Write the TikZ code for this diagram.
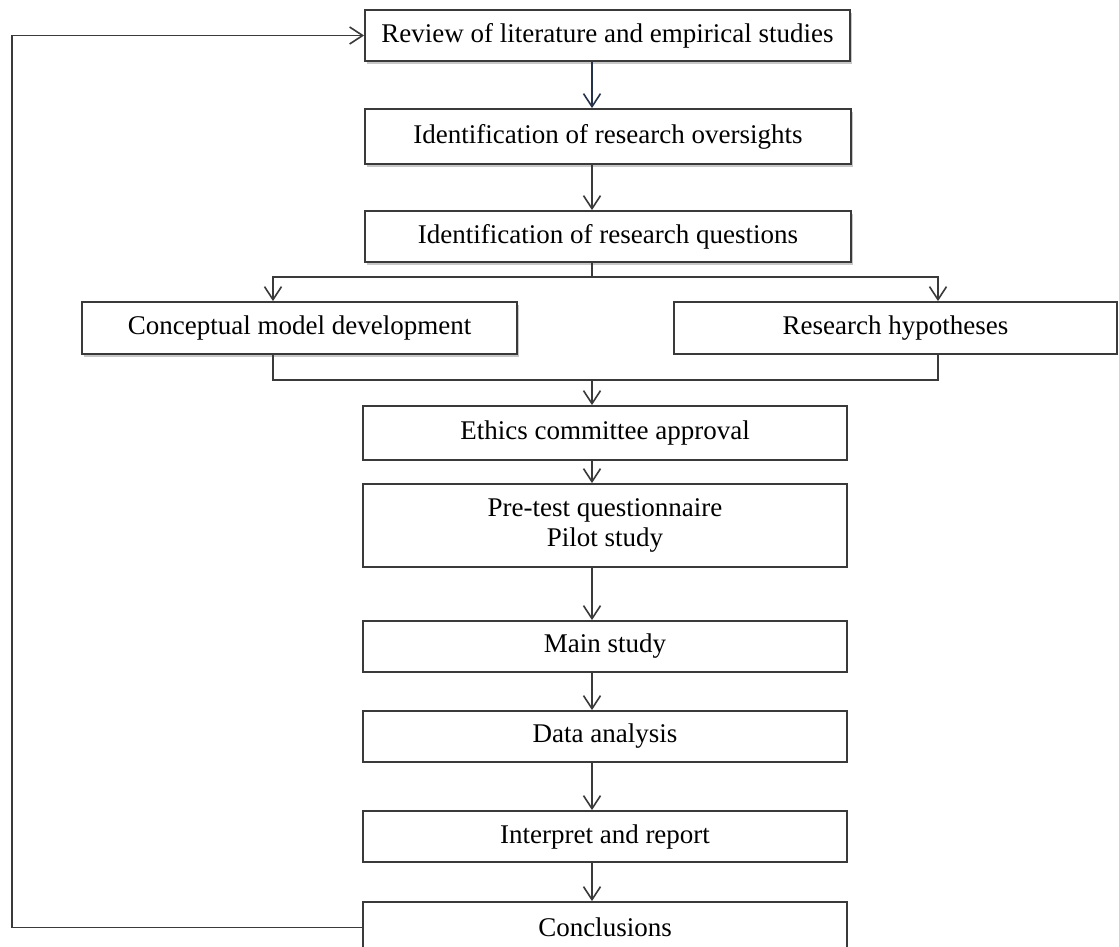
\documentclass[tikz,border=0pt]{standalone}
\usepackage{fontspec}
\setmainfont{Liberation Serif}
\usetikzlibrary{arrows.meta,shadows}

\definecolor{edge}{HTML}{3A3A3A}
\definecolor{navy}{HTML}{26324A}

\tikzset{
  stepbox/.style={draw=edge, line width=1.8pt, fill=white, rectangle,
    inner sep=0pt, align=center,
    font=\fontsize{27}{30}\selectfont},
  shadowed/.style={drop shadow={shadow xshift=2pt, shadow yshift=-3pt,
    opacity=0.22, fill=black}},
  link/.style={draw=edge, line width=1.8pt},
  arr/.style={link, -{Straight Barb[length=13pt,width=17pt,line width=1.6pt]}},
}

\begin{document}
\begin{tikzpicture}[x=1pt, y=-1pt]
  \clip (0,0) rectangle (1119,946);
  \fill[white] (0,0) rectangle (1119,946);

  % process steps
  \node[stepbox, shadowed, minimum width=485pt, minimum height=51pt] (review) at (607.5,35.5)
    {Review of literature and empirical studies};
  \node[stepbox, shadowed, minimum width=486pt, minimum height=55pt] (overs) at (608,136.5)
    {Identification of research oversights};
  \node[stepbox, shadowed, minimum width=486pt, minimum height=51pt] (quest) at (608,236.5)
    {Identification of research questions};
  \node[stepbox, shadowed, minimum width=435pt, minimum height=52pt] (concept) at (299.5,328)
    {Conceptual model development};
  \node[stepbox, minimum width=443pt, minimum height=52pt] (hypo) at (895.5,328)
    {Research hypotheses};
  \node[stepbox, minimum width=484pt, minimum height=54pt] (ethics) at (605,433)
    {Ethics committee approval};
  \node[stepbox, minimum width=484pt, minimum height=83pt] (pretest) at (605,525.5)
    {Pre-test questionnaire\\Pilot study};
  \node[stepbox, minimum width=484pt, minimum height=51pt] (main) at (605,646.5)
    {Main study};
  \node[stepbox, minimum width=484pt, minimum height=51pt] (data) at (605,736.5)
    {Data analysis};
  \node[stepbox, minimum width=484pt, minimum height=51pt] (interp) at (605,836.5)
    {Interpret and report};
  \node[stepbox, minimum width=484pt, minimum height=51pt] (concl) at (605,927.5)
    {Conclusions};

  % routing points
  \coordinate (spine) at (592,0);
  \coordinate (lb) at (273,277);
  \coordinate (rb) at (938,277);
  \coordinate (lm) at (273,380);
  \coordinate (rm) at (938,380);
  \coordinate (fb) at (12,0);

  % main sequence
  \draw[arr, draw=navy, line width=2.2pt] (review.south -| spine) -- (overs.north -| spine);
  \draw[arr] (overs.south -| spine) -- (quest.north -| spine);

  % split into model and hypotheses
  \draw[link] (quest.south -| spine) -- (spine |- lb);
  \draw[arr] (spine |- lb) -- (lb) -- (concept.north -| lb);
  \draw[arr] (spine |- lb) -- (rb) -- (hypo.north -| rb);

  % merge back
  \draw[link] (concept.south -| lm) -- (lm) -- (rm) -- (hypo.south -| rm);
  \draw[arr] (spine |- lm) -- (ethics.north -| spine);

  \draw[arr] (ethics.south -| spine) -- (pretest.north -| spine);
  \draw[arr] (pretest.south -| spine) -- (main.north -| spine);
  \draw[arr] (main.south -| spine) -- (data.north -| spine);
  \draw[arr] (data.south -| spine) -- (interp.north -| spine);
  \draw[arr] (interp.south -| spine) -- (concl.north -| spine);

  % feedback loop
  \draw[arr] (concl.west) -- (fb |- concl.west) -- (fb |- review.west) -- (review.west);
\end{tikzpicture}
\end{document}
